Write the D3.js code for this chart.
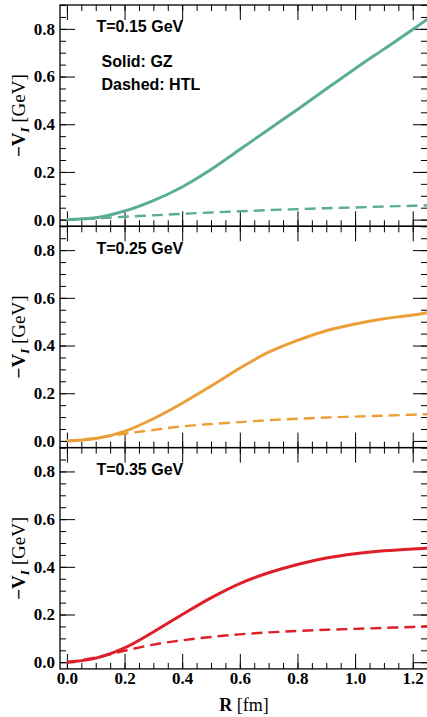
<!DOCTYPE html>
<html>
<head>
<meta charset="utf-8">
<script src="https://cdn.jsdelivr.net/npm/d3@7"></script>
<style>
  body { margin: 0; background: #fff; }
  svg { display: block; }
</style>
</head>
<body>
<svg id="chart" width="427" height="717"></svg>
<script>
// Separation R [fm] at which the potentials are sampled
const radii = [0, 0.1, 0.2, 0.3, 0.4, 0.5, 0.6, 0.7, 0.8, 0.9, 1.0, 1.1, 1.2, 1.25];

// Panel titles (temperature)
const temperatures = ["T=0.15 GeV", "T=0.25 GeV", "T=0.35 GeV"];

// -V_I [GeV], Gribov-Zwanziger (solid)
const gzT015 = [0, 0.008, 0.036, 0.080, 0.137, 0.210, 0.294, 0.378, 0.462, 0.548, 0.633, 0.715, 0.797, 0.840];
const gzT025 = [0, 0.010, 0.040, 0.093, 0.158, 0.230, 0.305, 0.372, 0.422, 0.462, 0.490, 0.512, 0.528, 0.538];
const gzT035 = [0, 0.017, 0.060, 0.127, 0.200, 0.270, 0.330, 0.375, 0.410, 0.437, 0.455, 0.467, 0.475, 0.478];

// -V_I [GeV], HTL (dashed)
const htlT015 = [0, 0.005, 0.012, 0.018, 0.024, 0.030, 0.035, 0.040, 0.044, 0.048, 0.051, 0.055, 0.058, 0.060];
const htlT025 = [0, 0.012, 0.030, 0.046, 0.061, 0.071, 0.079, 0.087, 0.093, 0.098, 0.102, 0.106, 0.110, 0.112];
const htlT035 = [0, 0.020, 0.048, 0.074, 0.092, 0.106, 0.117, 0.125, 0.131, 0.136, 0.140, 0.144, 0.148, 0.151];

const panelColors = ["#5BAD97", "#EB9F38", "#DE1E28"];

const xMajorTicks = [0, 0.2, 0.4, 0.6, 0.8, 1.0, 1.2];
const yMajorTicks = [0, 0.2, 0.4, 0.6, 0.8];

const gzSeries = [gzT015, gzT025, gzT035];
const htlSeries = [htlT015, htlT025, htlT035];

// layout
const left = 60, right = 428;
const top0 = 5, panelH = 221.3;
const serif = "Liberation Serif";
const sans = "Liberation Sans";

const svg = d3.select("#chart");

const x = d3.scaleLinear().domain([-0.024, 1.253]).range([left, right]);
const xMinor = d3.range(0, 1.2501, 0.05).map(v => +v.toFixed(2));
const yMinor = d3.range(0, 0.9001, 0.05).map(v => +v.toFixed(2));

const styleAxis = sel => {
  sel.select(".domain").remove();
  sel.selectAll("line").attr("stroke", "#000").attr("stroke-width", 1);
  sel.attr("font-family", serif).attr("font-size", 17);
  sel.selectAll("text")
    .attr("font-family", serif)
    .attr("font-weight", "bold")
    .attr("font-size", 17);
};

temperatures.forEach((label, i) => {
  const y0 = top0 + i * panelH;
  const y = d3.scaleLinear().domain([-0.028, 0.9]).range([y0 + panelH, y0]);
  const g = svg.append("g");

  // minor ticks on all four sides
  g.append("g").attr("transform", `translate(${left},0)`)
    .call(d3.axisLeft(y).tickValues(yMinor).tickSizeInner(-6).tickSizeOuter(0).tickFormat(""))
    .call(styleAxis);
  g.append("g").attr("transform", `translate(${right},0)`)
    .call(d3.axisRight(y).tickValues(yMinor).tickSizeInner(-7).tickSizeOuter(0).tickFormat(""))
    .call(styleAxis);
  g.append("g").attr("transform", `translate(0,${y0})`)
    .call(d3.axisTop(x).tickValues(xMinor).tickSizeInner(-6).tickSizeOuter(0).tickFormat(""))
    .call(styleAxis);
  g.append("g").attr("transform", `translate(0,${y0 + panelH})`)
    .call(d3.axisBottom(x).tickValues(xMinor).tickSizeInner(-6).tickSizeOuter(0).tickFormat(""))
    .call(styleAxis);

  // major ticks, labelled on the left (and on the bottom of the last panel)
  g.append("g").attr("transform", `translate(${left},0)`)
    .call(d3.axisLeft(y).tickValues(yMajorTicks).tickSizeInner(-15).tickSizeOuter(0)
      .tickPadding(5).tickFormat(d3.format(".1f")))
    .call(styleAxis);
  g.append("g").attr("transform", `translate(${right},0)`)
    .call(d3.axisRight(y).tickValues(yMajorTicks).tickSizeInner(-15).tickSizeOuter(0).tickFormat(""))
    .call(styleAxis);
  g.append("g").attr("transform", `translate(0,${y0})`)
    .call(d3.axisTop(x).tickValues(xMajorTicks).tickSizeInner(-15).tickSizeOuter(0).tickFormat(""))
    .call(styleAxis);
  g.append("g").attr("transform", `translate(0,${y0 + panelH})`)
    .call(d3.axisBottom(x).tickValues(xMajorTicks).tickSizeInner(-15).tickSizeOuter(0)
      .tickPadding(3).tickFormat(i === temperatures.length - 1 ? d3.format(".1f") : ""))
    .call(styleAxis);

  // frame
  g.append("rect")
    .attr("x", left).attr("y", y0)
    .attr("width", right - left).attr("height", panelH)
    .attr("fill", "none").attr("stroke", "#000").attr("stroke-width", 1.3);

  const line = d3.line()
    .x((d, k) => x(radii[k]))
    .y(d => y(d))
    .curve(d3.curveMonotoneX);

  g.append("path")
    .datum(htlSeries[i])
    .attr("d", line)
    .attr("fill", "none")
    .attr("stroke", panelColors[i])
    .attr("stroke-width", 2.4)
    .attr("stroke-dasharray", "11,6");

  g.append("path")
    .datum(gzSeries[i])
    .attr("d", line)
    .attr("fill", "none")
    .attr("stroke", panelColors[i])
    .attr("stroke-width", 3);

  // temperature label
  g.append("text")
    .attr("x", 96.5).attr("y", y0 + 27.2)
    .attr("font-family", sans).attr("font-weight", "bold").attr("font-size", 16)
    .text(label);

  // y-axis title
  const t = g.append("text")
    .attr("transform", `translate(25,${y0 + panelH / 2}) rotate(-90)`)
    .attr("text-anchor", "middle")
    .attr("font-family", serif).attr("font-size", 19);
  t.append("tspan").attr("font-weight", "bold").text("\u2212V");
  t.append("tspan").attr("font-weight", "bold").attr("font-style", "italic")
    .attr("font-size", 13).attr("dy", 4).text("I");
  t.append("tspan").attr("dy", -4).text(" [GeV]");
});

// line-style key in the top panel
svg.append("text")
  .attr("x", 101.5).attr("y", top0 + 61.5)
  .attr("font-family", sans).attr("font-weight", "bold").attr("font-size", 16)
  .text("Solid: GZ");
svg.append("text")
  .attr("x", 101.5).attr("y", top0 + 85)
  .attr("font-family", sans).attr("font-weight", "bold").attr("font-size", 16)
  .text("Dashed: HTL");

// x-axis title
const xt = svg.append("text")
  .attr("x", (left + right) / 2).attr("y", 711)
  .attr("text-anchor", "middle")
  .attr("font-family", serif).attr("font-size", 18);
xt.append("tspan").attr("font-weight", "bold").text("R");
xt.append("tspan").text(" [fm]");
</script>
</body>
</html>
